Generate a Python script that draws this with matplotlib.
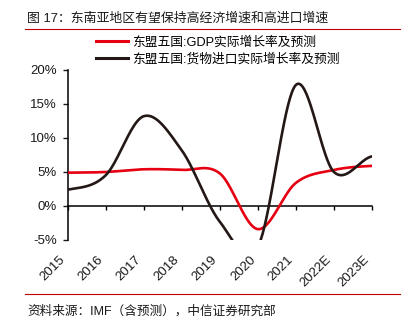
import numpy as np
import matplotlib
matplotlib.use("Agg")
import matplotlib.pyplot as plt
from matplotlib.lines import Line2D

plt.rcParams['font.family'] = ['Liberation Sans', 'Noto Sans CJK SC', 'DejaVu Sans']

# ---- data ----
years = ["2015", "2016", "2017", "2018", "2019", "2020", "2021", "2022E", "2023E"]
gdp = [4.9, 5.0, 5.4, 5.3, 4.8, -3.4, 3.4, 5.3, 5.9]
imports = [2.4, 4.5, 13.2, 8.2, -2.3, -6.0, 17.8, 5.0, 7.3]
yticks = [-5, 0, 5, 10, 15, 20]
gdp_label = "东盟五国:GDP实际增长率及预测"
imp_label = "东盟五国:货物进口实际增长率及预测"
title = "图 17：东南亚地区有望保持高经济增速和高进口增速"
source = "资料来源：IMF（含预测），中信证券研究部"

RED = "#E60012"
BLACK = "#231815"


def smooth(vals, n=40):
    """Excel-like smoothed line (cubic Bezier, 1/6 tangent factor)."""
    p = np.asarray(vals, dtype=float)
    x = np.arange(len(p), dtype=float)
    ext = np.concatenate([[p[0]], p, [p[-1]]])
    xs, ys = [], []
    t = np.linspace(0, 1, n)
    for i in range(len(p) - 1):
        p0, p3 = ext[i + 1], ext[i + 2]
        c1 = p0 + (ext[i + 2] - ext[i]) / 6.0
        c2 = p3 - (ext[i + 3] - ext[i + 1]) / 6.0
        y = (1 - t) ** 3 * p0 + 3 * (1 - t) ** 2 * t * c1 + 3 * (1 - t) * t ** 2 * c2 + t ** 3 * p3
        xs.append(x[i] + t)
        ys.append(y)
    return np.concatenate(xs), np.concatenate(ys)


fig = plt.figure(figsize=(4.11, 3.22), dpi=100)
W, H = 411, 322
ax = fig.add_axes([67.5 / W, 1 - 240 / H, (372 - 67.5) / W, (240 - 70) / H])

gx, gy = smooth(gdp)
ix, iy = smooth(imports)
ax.plot(gx, gy, color=RED, lw=1.9, solid_capstyle='round', zorder=3)
ax.plot(ix, iy, color=BLACK, lw=1.9, solid_capstyle='round', zorder=4)

ax.set_xlim(0, len(years) - 1)
ax.set_ylim(-5, 20)
ax.set_yticks(yticks)
ax.set_yticklabels([f"{v}%" for v in yticks])
ax.tick_params(axis='y', direction='out', length=3.5, width=1.0, pad=4, labelsize=9.5, colors='#1a1a1a')

ax.spines['top'].set_visible(False)
ax.spines['right'].set_visible(False)
ax.spines['left'].set_linewidth(1.1)
ax.spines['bottom'].set_position(('data', 0))
ax.spines['bottom'].set_linewidth(1.1)
ax.set_xticks(range(len(years)))
ax.tick_params(axis='x', direction='out', length=3, width=1.0, labelbottom=False)

sec = ax.secondary_xaxis(location=0.0)
sec.set_xticks(range(len(years)))
sec.set_xticklabels(years, rotation=45, ha='right', va='top')
sec.tick_params(axis='x', length=0, pad=10, labelsize=9.5, colors='#1a1a1a')
sec.spines['bottom'].set_visible(False)

handles = [Line2D([], [], color=RED, lw=2.2), Line2D([], [], color=BLACK, lw=2.2)]
fig.legend(handles, [gdp_label, imp_label], loc='upper left',
           bbox_to_anchor=(96 / W, 1 - 36 / H), frameon=False, fontsize=9.2,
           handlelength=2.5, handletextpad=0.3, labelspacing=0.35, borderpad=0,
           borderaxespad=0)

fig.text(27 / W, 1 - 19 / H, title, fontsize=9.3, va='center', ha='left', color='#1a1a1a')
fig.add_artist(Line2D([25 / W, 400 / W], [1 - 29.3 / H] * 2, color='#C00000', lw=0.8))
fig.add_artist(Line2D([25 / W, 400 / W], [1 - 294 / H] * 2, color='#C00000', lw=0.8))
fig.text(27 / W, 1 - 311 / H, source, fontsize=9.1, va='center', ha='left', color='#1a1a1a')

fig.savefig("out.png", dpi=100)
